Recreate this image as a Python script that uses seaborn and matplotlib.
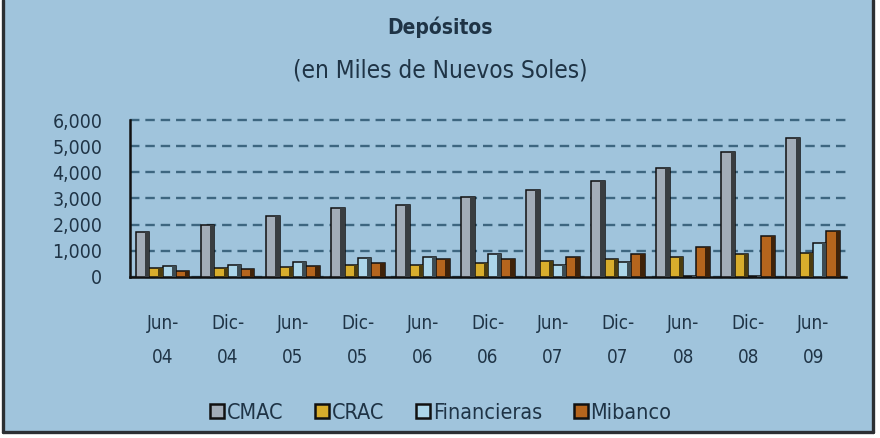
import numpy as np
import pandas as pd
import matplotlib
matplotlib.use("Agg")
import matplotlib.pyplot as plt
import matplotlib.colors as mcolors
from matplotlib.patches import Rectangle
from matplotlib.ticker import FuncFormatter
import seaborn as sns

# datos (miles de nuevos soles)
periodos = ["Jun-\n04", "Dic-\n04", "Jun-\n05", "Dic-\n05", "Jun-\n06", "Dic-\n06",
            "Jun-\n07", "Dic-\n07", "Jun-\n08", "Dic-\n08", "Jun-\n09"]
cmac = [1700, 2000, 2310, 2640, 2730, 3050, 3330, 3670, 4170, 4760, 5320]
crac = [320, 330, 360, 450, 460, 530, 615, 680, 770, 870, 910]
financieras = [400, 460, 550, 720, 740, 870, 460, 565, 20, 40, 1280]
mibanco = [230, 300, 400, 530, 670, 680, 740, 860, 1130, 1580, 1770]
series = ["CMAC", "CRAC", "Financieras", "Mibanco"]

df = pd.DataFrame({"Periodo": periodos, "CMAC": cmac, "CRAC": crac,
                   "Financieras": financieras, "Mibanco": mibanco})
long_df = df.melt(id_vars="Periodo", var_name="Entidad", value_name="Depositos")

bg = "#a0c4dc"
txt = "#1f3446"
palette = {"CMAC": "#a3adb8", "CRAC": "#d8ad2c", "Financieras": "#acd6ea", "Mibanco": "#b5651d"}

sns.set_style("white")
plt.rcParams["font.family"] = ["DejaVu Sans"]
plt.rcParams["font.stretch"] = "condensed"

fig = plt.figure(figsize=(8.8, 4.38), dpi=100)
fig.patch.set_facecolor("white")
# fondo celeste con marco oscuro a la izquierda, derecha y abajo
fig.patches.append(Rectangle((0.003, 0.014), 0.989, 0.99, transform=fig.transFigure,
                             facecolor=bg, edgecolor="none", zorder=-10))
frame = dict(transform=fig.transFigure, color="#2b2f33", linewidth=2.4)
fig.lines.append(plt.Line2D([0.003, 0.003], [0.014, 1.0], **frame))
fig.lines.append(plt.Line2D([0.992, 0.992], [0.014, 1.0], **frame))
fig.lines.append(plt.Line2D([0.003, 0.992], [0.014, 0.014], **frame))

ax = fig.add_axes([0.148, 0.368, 0.813, 0.358])
ax.set_facecolor(bg)
ax.patch.set_alpha(0)

sns.barplot(data=long_df, x="Periodo", y="Depositos", hue="Entidad", hue_order=series,
            palette=palette, width=0.82, edgecolor="#111111", linewidth=1.1,
            saturation=1, ax=ax, legend=False, zorder=3)

# sombra lateral para imitar el efecto 3D
for p in list(ax.patches):
    w = p.get_width()
    h = p.get_height()
    if h <= 0:
        continue
    col = np.array(mcolors.to_rgb(p.get_facecolor()))
    ax.add_patch(Rectangle((p.get_x() + w * 0.68, p.get_y()), w * 0.32, h,
                           facecolor=col * 0.35, edgecolor="none", zorder=4))

ax.set_ylim(0, 6000)
ax.set_yticks(range(0, 6001, 1000))
ax.yaxis.set_major_formatter(FuncFormatter(lambda v, _: f"{int(v):,}"))
ax.grid(axis="y", linestyle=(0, (4, 2.5)), color="#3d6680", linewidth=1.7, zorder=0)
ax.grid(axis="x", visible=False)
for gl in ax.get_ygridlines():
    gl.set_clip_on(False)

for s in ["top", "right"]:
    ax.spines[s].set_visible(False)
ax.spines["left"].set_color("#111111")
ax.spines["left"].set_linewidth(1.8)
ax.spines["bottom"].set_color("#111111")
ax.spines["bottom"].set_linewidth(1.8)

ax.set_xlabel("")
ax.set_ylabel("")
ax.tick_params(axis="y", length=0, pad=20, labelsize=14, labelcolor=txt)
ax.tick_params(axis="x", length=0, pad=27, labelsize=13.5, labelcolor=txt)
for lab in ax.get_xticklabels():
    lab.set_linespacing(2.0)

fig.text(0.5, 0.938, "Depósitos", ha="center", va="center", fontsize=15,
         fontweight="semibold", color=txt)
fig.text(0.5, 0.84, "(en Miles de Nuevos Soles)", ha="center", va="center",
         fontsize=17.5, color=txt)

handles = [plt.Line2D([], [], marker="s", linestyle="none", markersize=10,
                      markerfacecolor=palette[s], markeredgecolor="#111111",
                      markeredgewidth=1.8) for s in series]
fig.legend(handles, series, loc="center", bbox_to_anchor=(0.5, 0.058), ncol=4,
           frameon=False, handletextpad=0.05, columnspacing=1.4, fontsize=15.5,
           labelcolor=txt, handlelength=0.8)

fig.savefig("out.png", dpi=100, facecolor=fig.get_facecolor())
